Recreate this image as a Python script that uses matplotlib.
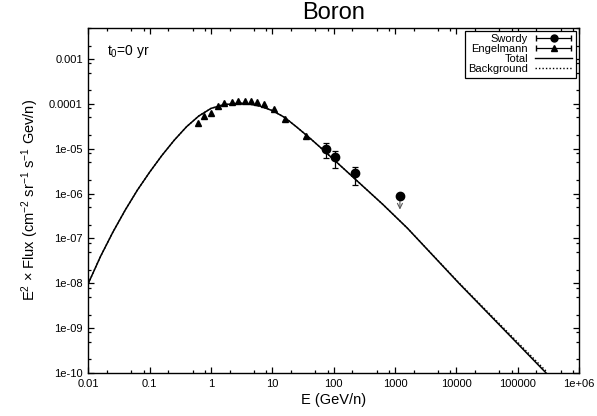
import numpy as np
import matplotlib
matplotlib.use("Agg")
import matplotlib.pyplot as plt
from matplotlib.ticker import FixedLocator, LogLocator, NullFormatter
from matplotlib.legend_handler import HandlerErrorbar

plt.rcParams.update({
    "font.family": ["Liberation Sans", "DejaVu Sans"],
    "font.size": 8,
    "axes.linewidth": 1.0,
    "axes.unicode_minus": False,
    "mathtext.fontset": "custom",
    "mathtext.rm": "Liberation Sans",
    "mathtext.it": "Liberation Sans",
})

# Engelmann (HEAO-3) boron points, E^2 x flux
eng_E = [0.62, 0.78, 1.0, 1.3, 1.6, 2.2, 2.8, 3.6, 4.5, 5.6, 7.3, 10.6, 16.2, 35.0]
eng_F = [3.83e-5, 5.37e-5, 6.4e-5, 9.0e-5, 1.06e-4, 1.12e-4, 1.14e-4, 1.14e-4,
         1.14e-4, 1.10e-4, 9.8e-5, 7.6e-5, 4.6e-5, 1.9e-5]

# Swordy points with error bar ends (low, high)
sw_E = [75.0, 106.0, 220.0]
sw_F = [9.7e-6, 6.5e-6, 2.85e-6]
sw_lo = [6.2e-6, 3.7e-6, 1.56e-6]
sw_hi = [1.33e-5, 9.1e-6, 4.0e-6]
# Swordy upper limit
ul_E = 1200.0
ul_F = 8.9e-7
ul_arrow = 4.4e-7

# model curves
mod_E = [0.01, 0.0158, 0.0251, 0.0398, 0.0631, 0.1, 0.158, 0.251, 0.398,
         0.631, 1.0, 1.58, 2.51, 3.16, 3.98, 6.31, 10.0, 15.8, 25.1, 39.8,
         63.1, 100.0, 251.0, 631.0, 1585.0, 1.1e4, 2.9e5]
total_F = [1.0e-8, 3.98e-8, 1.38e-7, 4.27e-7, 1.2e-6, 3.02e-6, 7.08e-6,
           1.55e-5, 3.09e-5, 5.37e-5, 7.94e-5, 9.55e-5, 1.02e-4, 1.03e-4,
           1.01e-4, 8.91e-5, 7.08e-5, 5.01e-5, 3.02e-5, 1.78e-5, 1.02e-5,
           5.75e-6, 1.82e-6, 5.75e-7, 1.7e-7, 1.0e-8, 1.0e-10]
bg_F = [1.0e-8, 3.98e-8, 1.38e-7, 4.27e-7, 1.2e-6, 3.02e-6, 7.08e-6,
        1.55e-5, 3.09e-5, 5.37e-5, 7.94e-5, 9.55e-5, 1.02e-4, 1.03e-4,
        1.01e-4, 8.91e-5, 7.08e-5, 5.01e-5, 3.02e-5, 1.78e-5, 1.02e-5,
        5.75e-6, 1.82e-6, 5.75e-7, 1.7e-7, 1.03e-8, 1.1e-10]

xticks = [1e-2, 1e-1, 1, 10, 100, 1000, 1e4, 1e5, 1e6]
xlabels = ["0.01", "0.1", "1", "10", "100", "1000", "10000", "100000", "1e+06"]
yticks = [1e-10, 1e-9, 1e-8, 1e-7, 1e-6, 1e-5, 1e-4, 1e-3]
ylabels = ["1e-10", "1e-09", "1e-08", "1e-07", "1e-06", "1e-05", "0.0001", "0.001"]

fig = plt.figure(figsize=(5.97, 4.16), dpi=100)
ax = fig.add_axes([0.148, 0.1034, 0.822, 0.830])
ax.set_xscale("log")
ax.set_yscale("log")

ax.plot(mod_E, total_F, color="black", lw=1.1, zorder=3)
ax.plot(mod_E, bg_F, color="black", lw=1.0, ls=(0, (1, 1.5)), zorder=2)

sw = np.array(sw_F)
yerr = [sw - np.array(sw_lo), np.array(sw_hi) - sw]
ax.errorbar(sw_E, sw_F, yerr=yerr, fmt="o", color="black", ms=6,
            elinewidth=0.9, capsize=2.5, capthick=0.9, zorder=4)
ax.plot([ul_E], [ul_F], "o", color="black", ms=6, zorder=4)
ax.annotate("", xy=(ul_E, ul_arrow), xytext=(ul_E, ul_F),
            arrowprops=dict(arrowstyle="->", color="0.35", lw=0.8,
                            shrinkA=0, shrinkB=0, mutation_scale=9))
ax.plot(eng_E, eng_F, "^", color="black", ms=4.5, zorder=4)

# legend handles in the gnuplot style (horizontal bars), drawn off-range
h_sw = ax.errorbar([1e-5], [1.0], xerr=[[5e-6], [5e-6]], fmt="o", color="black",
                   ms=5, elinewidth=0.9, capsize=2.5, label="Swordy")
h_en = ax.errorbar([1e-5], [1.0], xerr=[[5e-6], [5e-6]], fmt="^", color="black",
                   ms=4.5, elinewidth=0.9, capsize=2.5, label="Engelmann")
h_to, = ax.plot([], [], color="black", lw=1.0, label="Total")
h_bg, = ax.plot([], [], color="black", lw=1.0, ls=(0, (1, 1.5)), label="Background")

ax.set_xlim(1e-2, 1e6)
ax.set_ylim(1e-10, 5e-3)
ax.xaxis.set_major_locator(FixedLocator(xticks))
ax.set_xticklabels(xlabels)
ax.yaxis.set_major_locator(FixedLocator(yticks))
ax.set_yticklabels(ylabels)
ax.xaxis.set_minor_locator(LogLocator(base=10, subs=[2, 5, 8], numticks=20))
ax.yaxis.set_minor_locator(LogLocator(base=10, subs=[2, 5, 8], numticks=20))
ax.xaxis.set_minor_formatter(NullFormatter())
ax.yaxis.set_minor_formatter(NullFormatter())
ax.tick_params(which="both", direction="in", top=True, right=True, width=0.9)
ax.tick_params(which="major", length=4, labelsize=8, pad=4)
ax.tick_params(which="minor", length=2)

ax.set_xlabel("E (GeV/n)", fontsize=10.5, labelpad=3)
ax.set_ylabel(r"E$^2$ $\times$ Flux (cm$^{-2}$ sr$^{-1}$ s$^{-1}$ Gev/n)",
              fontsize=10.5, labelpad=6)
ax.set_title("Boron", fontsize=17, pad=6)
ax.text(0.038, 0.93, r"t$_0$=0 yr", transform=ax.transAxes, fontsize=10,
        ha="left", va="center")

leg = ax.legend(handles=[h_sw, h_en, h_to, h_bg], loc="upper right",
                markerfirst=False, fontsize=8, handlelength=3.4,
                labelspacing=0.0, borderpad=0.3, handletextpad=0.6,
                borderaxespad=0.3, fancybox=False, framealpha=1,
                edgecolor="black",
                handler_map={type(h_sw): HandlerErrorbar(xerr_size=1.6)})
leg.get_frame().set_linewidth(0.9)
for t in leg.get_texts():
    t.set_ha("right")

fig.savefig("out.png", dpi=100)
